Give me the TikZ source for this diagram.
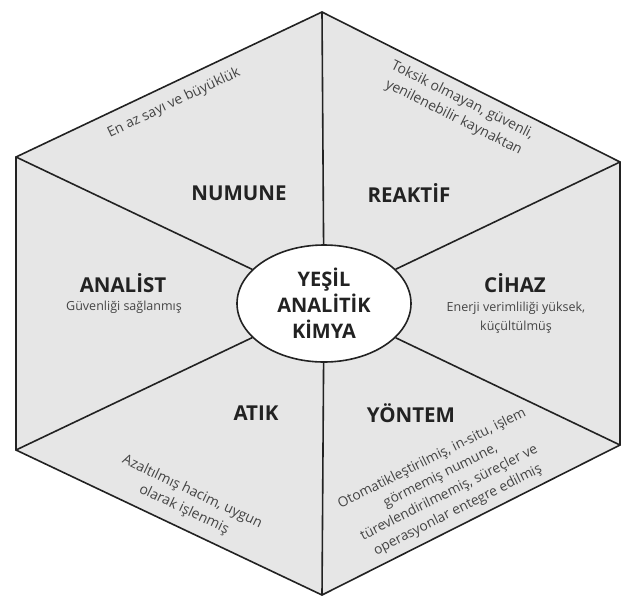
\documentclass[tikz,border=0pt]{standalone}
\usepackage{fontspec}
\setmainfont{Open Sans}
\usetikzlibrary{shapes.geometric}
\definecolor{panel}{HTML}{E6E6E6}
\definecolor{edge}{HTML}{222222}
\definecolor{note}{HTML}{444444}
\tikzset{
  edgeline/.style={draw=edge,line width=1.6pt,line join=miter},
  title/.style={font=\fontsize{20.5}{22}\selectfont\bfseries,text=edge,inner sep=0pt},
  notetext/.style={font=\fontsize{12.5}{19}\selectfont,text=note,align=center,inner sep=0pt},
  slanttext/.style={font=\fontsize{14}{19.3}\selectfont,text=note,align=center,inner sep=0pt},
  hub/.style={ellipse,draw=edge,line width=1.6pt,fill=white,minimum width=174pt,minimum height=117pt,inner sep=0pt,align=center,font=\fontsize{20}{26}\selectfont\bfseries,text=edge}
}
\begin{document}
\begin{tikzpicture}[x=1pt,y=-1pt]
\useasboundingbox (0,0) rectangle (621,598);
\coordinate (t) at (322,12);
\coordinate (ul) at (16,157);
\coordinate (ll) at (16,450);
\coordinate (b) at (322,595);
\coordinate (lr) at (620,445);
\coordinate (ur) at (620,162);
\fill[panel] (t) -- (ul) -- (ll) -- (b) -- (lr) -- (ur) -- cycle;
\node[hub] (c) at (324,303.5) {YEŞİL\\ANALİTİK\\KİMYA};
\foreach \v in {t,ul,ll,b,lr,ur} \draw[edgeline] (\v) -- (c);
\draw[edgeline] (t) -- (ul) -- (ll) -- (b) -- (lr) -- (ur) -- cycle;
\node[title] (numune) at (239,193) {NUMUNE};
\node[title] (reaktif) at (409,193) {REAKTİF};
\node[title] (analist) at (123,283) {ANALİST};
\node[title] (cihaz) at (515,283) {CİHAZ};
\node[title] (atik) at (256,413) {ATIK};
\node[title] (yontem) at (411,413) {YÖNTEM};
\node[notetext] (n1) at (124,307) {Güvenliği sağlanmış};
\node[notetext] (n2) at (516,318) {Enerji verimliliği yüksek,\\küçültülmüş};
\node[slanttext,rotate=25.4] (n3) at (174,103) {En az sayı ve büyüklük};
\node[slanttext,rotate=-26.6] (n4) at (458,109) {Toksik olmayan, güvenli,\\yenilenebilir kaynaktan};
\node[slanttext,rotate=-25.4] (n5) at (188,501) {Azaltılmış hacim, uygun\\olarak işlenmiş};
\node[slanttext,font=\fontsize{13.7}{19.2}\selectfont,rotate=26.6] (n6) at (445,484.5) {Otomatikleştirilmiş, in-situ, işlem\\görmemiş numune,\\türevlendirilmemiş, süreçler ve\\operasyonlar entegre edilmiş};
\end{tikzpicture}
\end{document}
